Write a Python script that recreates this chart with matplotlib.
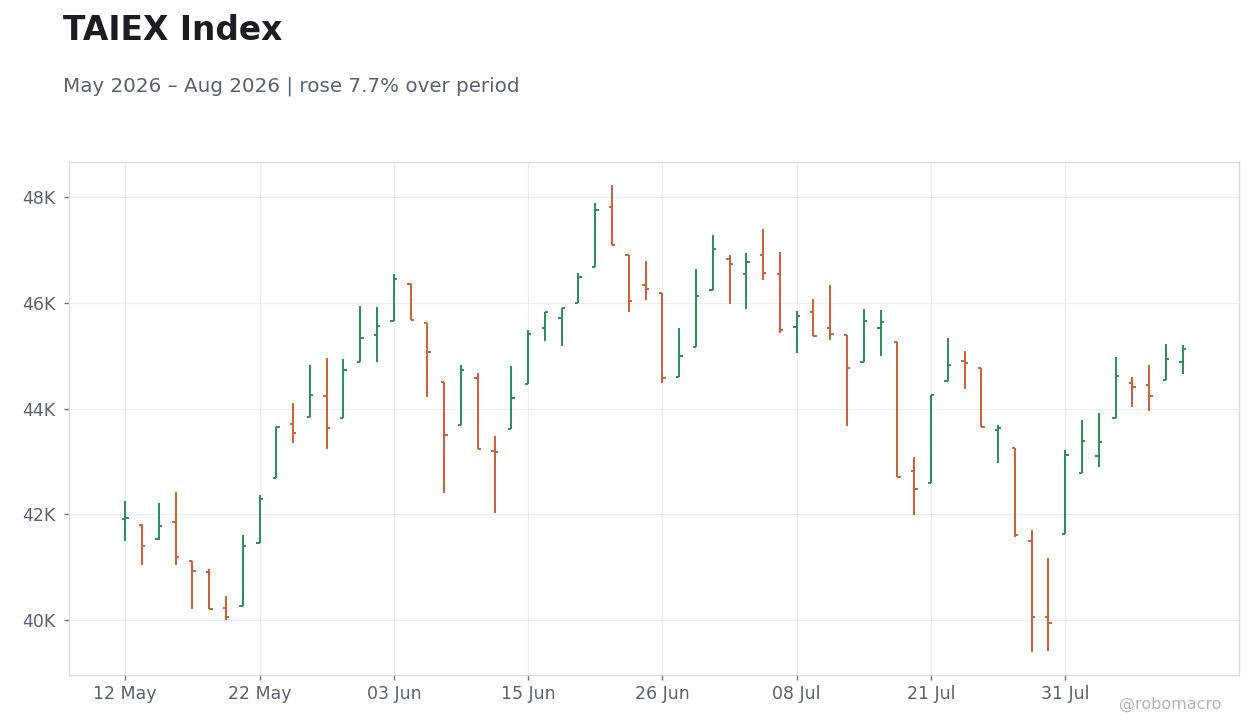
#!/usr/bin/env python

import numpy as np
import pandas as pd
from matplotlib import pyplot as plt
from matplotlib.ticker import FuncFormatter

# trading days (Taiwan calendar, a couple of market holidays removed)
dates = pd.bdate_range('2026-05-12', '2026-08-11')
dates = dates.drop(pd.to_datetime(['2026-06-19', '2026-07-15']))

opens = [41899, 41804, 41521, 41842, 41104, 40896, 40215, 40266, 41458, 42675,
         43713, 43842, 44240, 43817, 44877, 45394, 45659, 46359, 45627, 44510,
         43695, 44587, 43193, 43610, 44455, 45521, 45710, 45994, 46687, 47810,
         46915, 46347, 46196, 44606, 45167, 46246, 46839, 46555, 46915, 46555,
         45537, 45823, 45521, 45388, 44877, 45521, 45262, 42808, 42582, 44530,
         44908, 44769, 43596, 43243, 41496, 40058, 41625, 42783, 43104, 43823,
         44492, 44448, 44536, 44883]
highs = [42252, 41810, 42214, 42423, 41104, 40966, 40455, 41609, 42366, 43659,
         44104, 44820, 44952, 44933, 45936, 45917, 46542, 46359, 45627, 44510,
         44826, 44672, 43471, 44814, 45495, 45830, 45905, 46574, 47886, 48226,
         46915, 46795, 46196, 45527, 46643, 47287, 46908, 46946, 47400, 46965,
         45849, 46082, 46347, 45388, 45886, 45868, 45262, 43083, 44247, 45335,
         45092, 44769, 43685, 43243, 41698, 41168, 43208, 43779, 43912, 44971,
         44593, 44820, 45217, 45198]
lows = [41483, 41029, 41508, 41029, 40196, 40196, 39988, 40266, 41458, 42675,
        43353, 43842, 43237, 43817, 44877, 44883, 45659, 45671, 44221, 42398,
        43695, 43240, 42020, 43610, 44455, 45275, 45180, 45994, 46687, 47104,
        45836, 46057, 44474, 44606, 45167, 46246, 45987, 45893, 46441, 45439,
        45048, 45369, 45294, 43666, 44877, 44991, 42701, 41979, 42582, 44530,
        44363, 43647, 42972, 41572, 39396, 39415, 41625, 42783, 42896, 43823,
        44032, 43956, 44536, 44656]
closes = [41918, 41388, 41767, 41180, 40915, 40196, 40045, 41388, 42278, 43659,
          43543, 44259, 43634, 44732, 45337, 45564, 46453, 45671, 45072, 43505,
          44720, 43240, 43168, 44196, 45407, 45823, 45905, 46486, 47753, 47104,
          46044, 46265, 44587, 45003, 46139, 47028, 46744, 46776, 46574, 45489,
          45745, 45369, 45407, 44764, 45653, 45634, 42701, 42468, 44247, 44833,
          44870, 43647, 43634, 41603, 40058, 39945, 43120, 43388, 43369, 44618,
          44410, 44240, 44940, 45123]

UP = '#2e8b57'
DOWN = '#c8603c'
TXT = '#5d606b'

o = np.array(opens)
h = np.array(highs)
l = np.array(lows)
c = np.array(closes)
x = np.arange(len(dates))
cols = np.where(c >= o, UP, DOWN)

fig = plt.figure(figsize=(12.6, 7.28), dpi=100, facecolor='white')
ax = fig.add_axes([69/1260, 1 - 675/728, (1239 - 69)/1260, (675 - 162)/728])
ax.set_facecolor('white')

tw = 0.2
ax.vlines(x, l, h, colors=cols, linewidth=1.4)
ax.hlines(o, x - tw, x, colors=cols, linewidth=1.4)
ax.hlines(c, x, x + tw, colors=cols, linewidth=1.4)

rng = h.max() - l.min()
ax.set_ylim(l.min() - 0.05*rng, h.max() + 0.05*rng)
ax.set_xlim(-3.35, len(x) - 1 + 3.35)

ax.set_yticks(np.arange(40000, 48001, 2000))
ax.yaxis.set_major_formatter(FuncFormatter(lambda v, p: f'{v/1000:.0f}K'))
tick_idx = x[::8]
ax.set_xticks(tick_idx)
ax.set_xticklabels([dates[i].strftime('%d %b') for i in tick_idx])

ax.grid(True, color='#ececec', linewidth=0.8)
ax.set_axisbelow(True)
for s in ax.spines.values():
    s.set_color('#dcdcdc')
    s.set_linewidth(1.0)
ax.tick_params(axis='both', colors='#6a6d75', labelcolor=TXT, labelsize=12.5,
               length=3.5, width=1)
ax.tick_params(axis='y', pad=6)
ax.tick_params(axis='x', pad=4)

pct = (c[-1] / o[0] - 1) * 100
fig.text(63/1260, 1 - 39.5/728, 'TAIEX Index', fontsize=23.7, fontweight='bold',
         color='#1c1c21', va='baseline', ha='left')
fig.text(63/1260, 1 - 92/728,
         f'May 2026 \u2013 Aug 2026 | rose {pct:.1f}% over period',
         fontsize=14.3, color=TXT, va='baseline', ha='left')
fig.text(1221/1260, 1 - 709/728, '@robomacro', fontsize=11.5, color='#b3b3b8',
         va='baseline', ha='right')

fig.savefig('out.png', dpi=100, facecolor=fig.get_facecolor())
